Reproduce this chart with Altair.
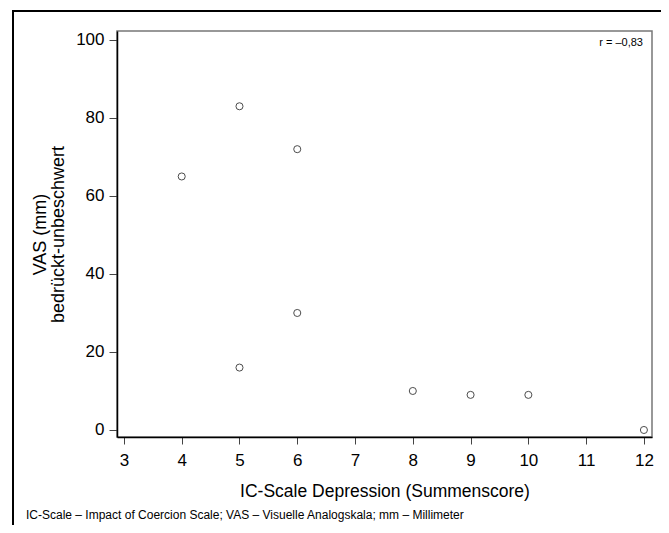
import altair as alt
import pandas as pd

# Data
ic_depression = [4, 5, 6, 6, 5, 8, 9, 10, 12]
vas_mm = [65, 83, 72, 30, 16, 10, 9, 9, 0]
x_ticks = [3, 4, 5, 6, 7, 8, 9, 10, 11, 12]
y_ticks = [0, 20, 40, 60, 80, 100]
r_label = ["r = \u20130,83"]
footnote = ["IC-Scale \u2013 Impact of Coercion Scale; VAS \u2013 Visuelle Analogskala; mm \u2013 Millimeter"]

df = pd.DataFrame({"x": ic_depression, "y": vas_mm})
FONT = "Liberation Sans"

W, H = 535, 406

points = alt.Chart(df).mark_point(
    shape="circle", filled=False, color="black", size=50, strokeWidth=1
).encode(
    x=alt.X("x:Q",
            scale=alt.Scale(domain=[2.88, 12.14], nice=False, zero=False),
            axis=alt.Axis(values=x_ticks, title="IC-Scale Depression (Summenscore)",
                          grid=False, domainColor="black", domainWidth=1.5,
                          tickColor="#444", tickSize=7, labelFontSize=17,
                          labelPadding=8, titleFontSize=17.5, titleFontWeight="normal",
                          titlePadding=14, labelColor="black", titleColor="black",
                          labelFont=FONT, titleFont=FONT)),
    y=alt.Y("y:Q",
            scale=alt.Scale(domain=[-1.8, 102.3], nice=False, zero=False),
            axis=alt.Axis(values=y_ticks, title=["VAS (mm)", "bedrückt-unbeschwert"],
                          grid=False, domainColor="black", domainWidth=1.5,
                          tickColor="#444", tickSize=8, labelFontSize=17,
                          labelPadding=5, titleFontSize=18, titleFontWeight="normal",
                          titlePadding=8, titleLineHeight=18,
                          labelColor="black", titleColor="black",
                          labelFont=FONT, titleFont=FONT)),
)

r_text = alt.Chart(pd.DataFrame({"t": r_label})).mark_text(
    align="right", baseline="middle", fontSize=11, font=FONT, color="black"
).encode(x=alt.value(W - 9), y=alt.value(12), text="t:N")

foot = alt.Chart(pd.DataFrame({"t": footnote})).mark_text(
    align="left", baseline="middle", fontSize=12, font=FONT, color="black"
).encode(x=alt.value(26 - 117), y=alt.value(515 - 31), text="t:N")

frame = alt.Chart(pd.DataFrame({"t": footnote})).mark_rect(
    fill=None, stroke="black", strokeWidth=2
).encode(x=alt.value(13 - 117), y=alt.value(11 - 31), x2=alt.value(W + 40), y2=alt.value(H + 140))

chart = alt.layer(frame, points, r_text, foot).properties(
    width=W, height=H,
    autosize=alt.AutoSizeParams(type="none"),
    padding={"left": 109, "top": 23, "right": 9, "bottom": 88},
).configure_view(stroke="#777", strokeWidth=1.5)

chart.save("out.html", embed_options={"renderer": "svg", "actions": False})
